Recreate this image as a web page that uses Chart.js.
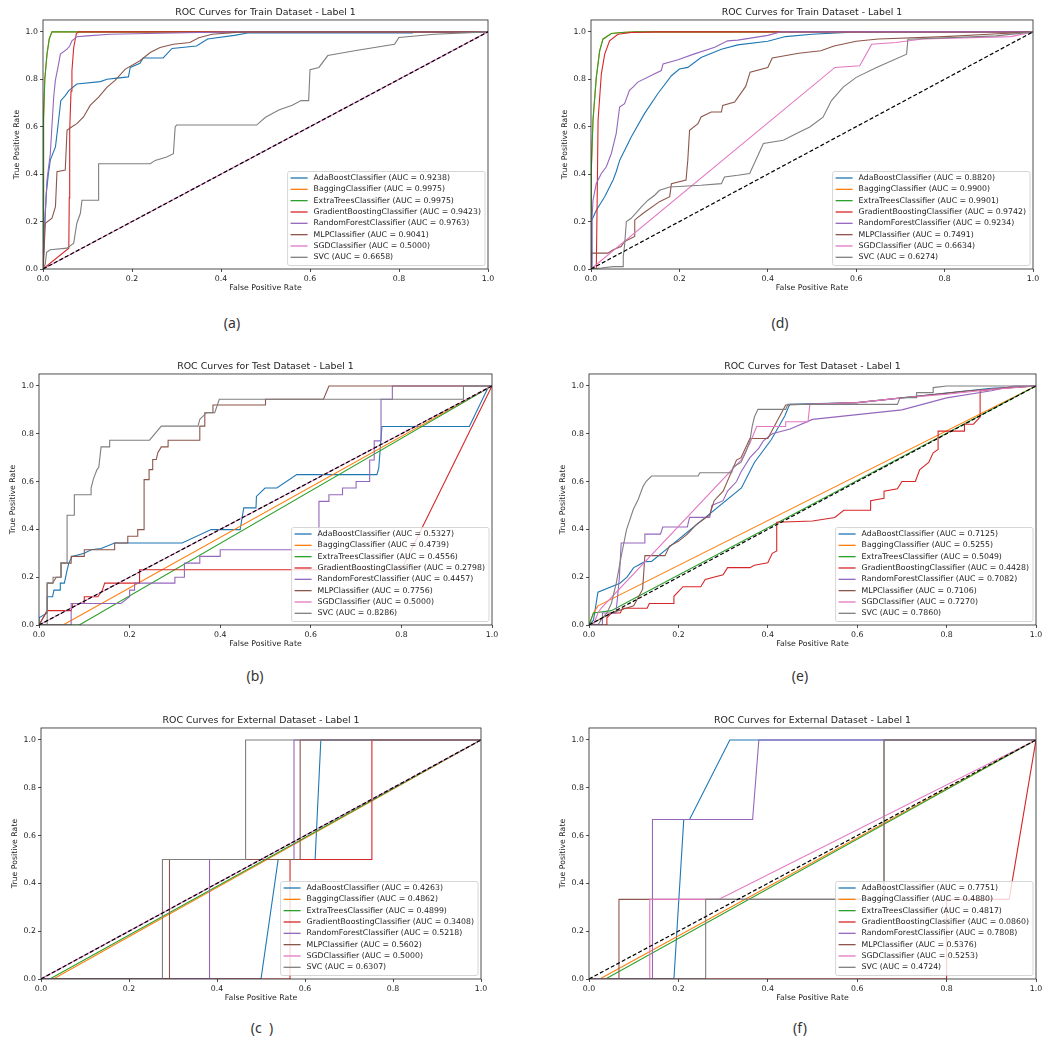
<!DOCTYPE html>
<html>
<head>
<meta charset="utf-8">
<script src="https://cdn.jsdelivr.net/npm/chart.js@4.4.1/dist/chart.umd.min.js"></script>
<style>
    body { margin: 0; background: #fff; width: 1050px; height: 1044px; position: relative; overflow: hidden; }
    canvas { position: absolute; }
    .cap { position: absolute; font: 14px "Noto Sans"; color: #333; transform: translate(-50%, -50%); white-space: pre; }
</style>
</head>
<body>
<canvas id="chartA" width="489" height="297" style="left:9px;top:0px"></canvas>
<canvas id="chartD" width="486" height="297" style="left:557px;top:0px"></canvas>
<canvas id="chartB" width="497" height="299" style="left:5px;top:354px"></canvas>
<canvas id="chartE" width="491" height="299" style="left:555px;top:354px"></canvas>
<canvas id="chartC" width="484" height="299" style="left:7px;top:708px"></canvas>
<canvas id="chartF" width="491" height="299" style="left:555px;top:708px"></canvas>
<div class="cap" style="left:232px;top:322px">(a)</div>
<div class="cap" style="left:780px;top:322px">(d)</div>
<div class="cap" style="left:255px;top:675px">(b)</div>
<div class="cap" style="left:800px;top:675px">(e)</div>
<div class="cap" style="left:262px;top:1027px">(c  )</div>
<div class="cap" style="left:800px;top:1027px">(f)</div>
<script>
// Models and tick labels
const MODELS = ['AdaBoostClassifier', 'BaggingClassifier', 'ExtraTreesClassifier', 'GradientBoostingClassifier',
    'RandomForestClassifier', 'MLPClassifier', 'SGDClassifier', 'SVC'];
const TICKS = [0, 0.2, 0.4, 0.6, 0.8, 1.0];
const COLORS = ['#1f77b4', '#ff7f0e', '#2ca02c', '#d62728', '#9467bd', '#8c564b', '#e377c2', '#7f7f7f'];

// AUC values per panel
const aucA = [0.9238, 0.9975, 0.9975, 0.9423, 0.9763, 0.9041, 0.5000, 0.6658];
const aucD = [0.8820, 0.9900, 0.9901, 0.9742, 0.9234, 0.7491, 0.6634, 0.6274];
const aucB = [0.5327, 0.4739, 0.4556, 0.2798, 0.4457, 0.7756, 0.5000, 0.8286];
const aucE = [0.7125, 0.5255, 0.5049, 0.4428, 0.7082, 0.7106, 0.7270, 0.7860];
const aucC = [0.4263, 0.4862, 0.4899, 0.3408, 0.5218, 0.5602, 0.5000, 0.6307];
const aucF = [0.7751, 0.4880, 0.4817, 0.0860, 0.7808, 0.5376, 0.5253, 0.4724];

// (a) Train, left  -- [fpr, tpr]
const aAda = [[0,0],[0.003,0.15],[0.0075,0.32],[0.012,0.4],[0.0165,0.46],[0.028,0.515],[0.035,0.626],[0.04,0.71],[0.05,0.731],[0.058,0.752],[0.076,0.78],[0.129,0.79],[0.144,0.8],[0.166,0.805],[0.192,0.81],[0.196,0.85],[0.218,0.867],[0.225,0.89],[0.27,0.89],[0.29,0.93],[0.345,0.94],[0.37,0.97],[0.43,0.985],[0.46,0.995],[0.83,0.995],[0.83,1],[1,1]];
const aBag = [[0,0],[0.001,0.3],[0.0015,0.63],[0.004,0.8],[0.009,0.906],[0.014,0.97],[0.02,1],[1,1]];
const aExtra = [[0,0],[0.001,0.3],[0.0015,0.63],[0.004,0.8],[0.009,0.906],[0.014,0.97],[0.02,1],[1,1]];
const aGb = [[0,0],[0.058,0.088],[0.059,0.3],[0.06,0.585],[0.063,0.75],[0.065,0.836],[0.069,0.934],[0.075,0.993],[0.08,1],[1,1]];
const aRf = [[0,0],[0.004,0.2],[0.009,0.375],[0.0165,0.487],[0.02,0.6],[0.024,0.724],[0.0277,0.794],[0.035,0.864],[0.039,0.906],[0.054,0.927],[0.06,0.94],[0.065,0.962],[0.076,0.979],[0.099,0.983],[0.15,0.99],[0.35,0.997],[0.45,1],[1,1]];
const aMlp = [[0,0],[0.003,0.1],[0.0052,0.193],[0.0202,0.214],[0.028,0.263],[0.0314,0.41],[0.05,0.417],[0.054,0.585],[0.065,0.6],[0.076,0.613],[0.091,0.641],[0.106,0.69],[0.125,0.725],[0.144,0.767],[0.162,0.795],[0.185,0.843],[0.218,0.878],[0.241,0.913],[0.263,0.934],[0.293,0.948],[0.33,0.955],[0.35,0.975],[0.38,0.99],[0.45,1],[1,1]];
const aSgd = [[0,0],[1,1]];
const aSvc = [[0,0],[0.005,0.02],[0.008,0.07],[0.0165,0.081],[0.054,0.088],[0.069,0.109],[0.076,0.193],[0.084,0.235],[0.0875,0.29],[0.125,0.29],[0.125,0.444],[0.241,0.444],[0.252,0.458],[0.278,0.472],[0.293,0.486],[0.297,0.598],[0.3,0.607],[0.48,0.607],[0.5,0.64],[0.53,0.67],[0.56,0.69],[0.58,0.71],[0.597,0.71],[0.6,0.84],[0.62,0.85],[0.64,0.9],[0.7,0.92],[0.79,0.948],[0.8,0.976],[0.88,0.99],[1,1]];

// (d) Train, right
const dAda = [[0,0],[0.002,0.207],[0.012,0.248],[0.031,0.305],[0.05,0.375],[0.057,0.41],[0.065,0.459],[0.091,0.557],[0.121,0.655],[0.151,0.739],[0.182,0.815],[0.2,0.843],[0.219,0.85],[0.249,0.892],[0.295,0.927],[0.332,0.945],[0.4,0.96],[0.44,0.98],[0.5,0.99],[0.6,1],[1,1]];
const dBag = [[0,0],[0.0007,0.417],[0.0045,0.627],[0.012,0.808],[0.0196,0.92],[0.027,0.969],[0.046,0.993],[0.069,0.997],[0.1,1],[1,1]];
const dExtra = [[0,0],[0.0007,0.417],[0.0045,0.627],[0.012,0.808],[0.0196,0.92],[0.027,0.969],[0.046,0.993],[0.069,0.997],[0.1,1],[1,1]];
const dGb = [[0,0],[0.012,0],[0.014,0.3],[0.016,0.627],[0.0234,0.823],[0.031,0.906],[0.042,0.962],[0.061,0.99],[0.091,0.997],[0.15,1],[1,1]];
const dRf = [[0,0],[0.002,0.2],[0.0045,0.29],[0.012,0.361],[0.0234,0.403],[0.0347,0.431],[0.046,0.487],[0.057,0.571],[0.0648,0.683],[0.076,0.697],[0.087,0.753],[0.095,0.767],[0.106,0.788],[0.136,0.816],[0.159,0.837],[0.163,0.865],[0.197,0.882],[0.234,0.907],[0.28,0.935],[0.309,0.962],[0.332,0.965],[0.4,0.985],[0.43,1],[1,1]];
const dMlp = [[0,0],[0,0.067],[0.038,0.067],[0.05,0.081],[0.068,0.095],[0.076,0.116],[0.099,0.137],[0.099,0.207],[0.118,0.235],[0.155,0.284],[0.178,0.305],[0.182,0.36],[0.215,0.375],[0.219,0.459],[0.223,0.585],[0.242,0.613],[0.249,0.641],[0.272,0.662],[0.295,0.662],[0.298,0.69],[0.325,0.704],[0.35,0.77],[0.36,0.83],[0.4,0.85],[0.41,0.89],[0.47,0.91],[0.52,0.92],[0.55,0.94],[0.6,0.96],[0.65,0.97],[0.8,0.98],[0.9,0.99],[1,1]];
const dSgd = [[0,0],[0.552,0.85],[0.608,0.857],[0.627,0.92],[0.635,0.948],[0.69,0.955],[0.75,0.97],[0.95,0.98],[1,1]];
const dSvc = [[0,0],[0.023,0.004],[0.05,0.01],[0.073,0.01],[0.073,0.053],[0.076,0.1],[0.08,0.2],[0.091,0.214],[0.114,0.262],[0.129,0.29],[0.144,0.311],[0.155,0.332],[0.178,0.346],[0.249,0.353],[0.295,0.36],[0.302,0.388],[0.332,0.395],[0.359,0.403],[0.39,0.529],[0.435,0.543],[0.465,0.571],[0.495,0.599],[0.525,0.64],[0.544,0.71],[0.57,0.766],[0.6,0.808],[0.646,0.85],[0.714,0.906],[0.717,0.969],[0.917,0.983],[1,1]];

// (b) Test, left
const bAda = [[0,0],[0,0.03],[0.018,0.05],[0.018,0.118],[0.03,0.118],[0.033,0.146],[0.047,0.146],[0.047,0.175],[0.056,0.175],[0.062,0.23],[0.066,0.26],[0.073,0.287],[0.1,0.3],[0.115,0.315],[0.137,0.32],[0.167,0.343],[0.316,0.343],[0.38,0.399],[0.444,0.399],[0.452,0.49],[0.479,0.49],[0.48,0.538],[0.499,0.573],[0.525,0.573],[0.569,0.629],[0.746,0.629],[0.75,0.657],[0.757,0.83],[0.95,0.83],[0.993,1],[1,1]];
const bBag = [[0,0],[0.053,0],[1,1]];
const bExtra = [[0,0],[0.089,0],[1,1]];
const bGb = [[0,0],[0.018,0.06],[0.071,0.06],[0.075,0.09],[0.1,0.09],[0.1,0.118],[0.13,0.118],[0.14,0.146],[0.145,0.175],[0.222,0.175],[0.222,0.231],[0.8,0.231],[1,1]];
const bRf = [[0,0],[0.071,0],[0.071,0.09],[0.181,0.09],[0.2,0.118],[0.2,0.146],[0.211,0.146],[0.211,0.175],[0.3,0.175],[0.3,0.2],[0.321,0.2],[0.321,0.259],[0.355,0.259],[0.355,0.287],[0.4,0.287],[0.4,0.315],[0.618,0.315],[0.618,0.517],[0.64,0.517],[0.64,0.545],[0.67,0.545],[0.67,0.573],[0.7,0.573],[0.7,0.6],[0.73,0.6],[0.73,0.69],[0.74,0.69],[0.74,0.77],[0.755,0.77],[0.755,0.944],[0.78,0.944],[0.78,1],[1,1]];
const bMlp = [[0,0],[0.018,0.06],[0.018,0.175],[0.03,0.175],[0.038,0.2],[0.049,0.2],[0.049,0.259],[0.071,0.259],[0.071,0.287],[0.1,0.287],[0.1,0.315],[0.167,0.315],[0.167,0.343],[0.196,0.343],[0.196,0.371],[0.218,0.371],[0.218,0.399],[0.232,0.399],[0.232,0.608],[0.243,0.608],[0.243,0.65],[0.251,0.65],[0.251,0.692],[0.259,0.692],[0.262,0.72],[0.27,0.745],[0.285,0.745],[0.285,0.773],[0.355,0.773],[0.355,0.832],[0.366,0.832],[0.366,0.888],[0.384,0.888],[0.384,0.92],[0.5,0.92],[0.5,0.944],[0.628,0.944],[0.64,1],[1,1]];
const bSgd = [[0,0],[1,1]];
const bSvc = [[0,0],[0.018,0],[0.018,0.175],[0.031,0.175],[0.031,0.2],[0.048,0.2],[0.048,0.26],[0.062,0.26],[0.062,0.459],[0.078,0.459],[0.078,0.545],[0.115,0.545],[0.115,0.573],[0.12,0.61],[0.128,0.65],[0.132,0.66],[0.137,0.745],[0.156,0.745],[0.156,0.773],[0.244,0.773],[0.27,0.832],[0.351,0.832],[0.355,0.86],[0.37,0.888],[0.388,0.888],[0.398,0.944],[0.937,0.944],[0.937,1],[1,1]];

// (e) Test, right
const eAda = [[0,0],[0.01,0.02],[0.02,0.137],[0.069,0.175],[0.085,0.2],[0.1,0.24],[0.11,0.25],[0.125,0.265],[0.14,0.266],[0.341,0.573],[0.37,0.68],[0.408,0.776],[0.438,0.874],[0.449,0.923],[0.6,0.93],[0.7,0.95],[0.8,0.97],[0.9,0.99],[1,1]];
const eBag = [[0,0],[0.01,0.05],[0.02,0.08],[1,1]];
const eExtra = [[0,0],[0.01,0.05],[0.05,0.06],[0.1,0.11],[1,1]];
const eGb = [[0,0],[0.04,0],[0.04,0.03],[0.05,0.05],[0.07,0.05],[0.075,0.07],[0.13,0.07],[0.135,0.09],[0.19,0.09],[0.19,0.12],[0.2,0.14],[0.21,0.16],[0.25,0.16],[0.26,0.19],[0.3,0.21],[0.31,0.24],[0.36,0.24],[0.37,0.25],[0.4,0.26],[0.41,0.3],[0.42,0.31],[0.42,0.43],[0.5,0.435],[0.55,0.45],[0.57,0.48],[0.629,0.48],[0.63,0.52],[0.66,0.53],[0.66,0.56],[0.69,0.57],[0.7,0.6],[0.73,0.6],[0.74,0.65],[0.76,0.68],[0.77,0.72],[0.781,0.734],[0.781,0.811],[0.84,0.811],[0.84,0.84],[0.86,0.84],[0.875,0.87],[0.875,0.979],[0.92,0.99],[1,1]];
const eRf = [[0,0],[0.03,0],[0.03,0.05],[0.06,0.05],[0.063,0.1],[0.068,0.2],[0.072,0.343],[0.125,0.343],[0.125,0.38],[0.16,0.38],[0.165,0.41],[0.22,0.41],[0.225,0.45],[0.27,0.45],[0.275,0.5],[0.3,0.52],[0.31,0.56],[0.33,0.6],[0.34,0.64],[0.36,0.7],[0.38,0.74],[0.39,0.77],[0.41,0.8],[0.45,0.82],[0.5,0.86],[0.6,0.88],[0.7,0.9],[0.8,0.95],[0.9,0.98],[0.95,1],[1,1]];
const eMlp = [[0,0],[0.02,0.02],[0.05,0.05],[0.1,0.08],[0.12,0.15],[0.125,0.29],[0.17,0.29],[0.18,0.33],[0.2,0.35],[0.22,0.38],[0.24,0.42],[0.27,0.46],[0.28,0.52],[0.3,0.56],[0.33,0.69],[0.34,0.7],[0.36,0.78],[0.4,0.78],[0.42,0.85],[0.44,0.92],[0.6,0.93],[0.75,0.96],[0.85,0.98],[1,1]];
const eSgd = [[0,0],[0.01,0],[0.02,0.05],[0.027,0.07],[0.341,0.692],[0.36,0.76],[0.375,0.83],[0.44,0.83],[0.44,0.85],[0.49,0.85],[0.494,0.923],[0.6,0.93],[0.7,0.95],[0.8,0.965],[0.9,0.985],[1,1]];
const eSvc = [[0,0],[0.02,0],[0.03,0.03],[0.04,0.05],[0.05,0.09],[0.061,0.175],[0.072,0.287],[0.084,0.399],[0.099,0.483],[0.11,0.525],[0.121,0.58],[0.128,0.601],[0.14,0.623],[0.244,0.623],[0.248,0.637],[0.319,0.637],[0.323,0.662],[0.34,0.68],[0.35,0.72],[0.36,0.77],[0.365,0.83],[0.37,0.87],[0.378,0.902],[0.44,0.902],[0.445,0.923],[0.69,0.923],[0.696,0.951],[0.733,0.951],[0.733,0.972],[0.77,0.972],[0.77,0.993],[0.8,1],[1,1]];

// (c) External, left
const cAda = [[0,0],[0.5,0],[0.539,0.5],[0.623,0.5],[0.636,1],[1,1]];
const cBag = [[0,0],[0.028,0],[1,1]];
const cExtra = [[0,0],[0.02,0],[1,1]];
const cGb = [[0,0],[0.566,0],[0.566,0.5],[0.752,0.5],[0.752,1],[1,1]];
const cRf = [[0,0],[0.383,0],[0.383,0.5],[0.575,0.5],[0.575,1],[1,1]];
const cMlp = [[0,0],[0.292,0],[0.292,0.5],[0.589,0.5],[0.589,1],[1,1]];
const cSgd = [[0,0],[1,1]];
const cSvc = [[0,0],[0.276,0],[0.276,0.5],[0.465,0.5],[0.465,1],[1,1]];

// (f) External, right
const fAda = [[0,0],[0.19,0],[0.212,0.667],[0.225,0.667],[0.315,1],[1,1]];
const fBag = [[0,0],[0.024,0],[1,1]];
const fExtra = [[0,0],[0.037,0],[1,1]];
const fGb = [[0,0],[0.8,0],[0.8,0.333],[0.94,0.333],[1,1]];
const fRf = [[0,0],[0.142,0],[0.142,0.667],[0.366,0.667],[0.38,1],[1,1]];
const fMlp = [[0,0],[0.067,0],[0.067,0.333],[0.66,0.333],[0.66,1],[1,1]];
const fSgd = [[0,0],[0.136,0],[0.136,0.333],[0.29,0.333],[1,1]];
const fSvc = [[0,0],[0.261,0],[0.261,0.333],[0.66,0.333],[0.66,1],[1,1]];

const CHANCE = [[0,0],[1,1]];

Chart.defaults.font.family = '"DejaVu Sans", sans-serif';

// Frame around the plot area (all four spines)
const framePlugin = {
    id: 'frame',
    afterDatasetsDraw(chart) {
        const { ctx, chartArea: a } = chart;
        ctx.save();
        ctx.strokeStyle = '#222';
        ctx.lineWidth = 0.8;
        ctx.strokeRect(a.left, a.top, a.right - a.left, a.bottom - a.top);
        ctx.restore();
    }
};

// Legend boxed inside the plot, lower right
const insideLegend = {
    id: 'insideLegend',
    afterDraw(chart) {
        const { ctx, chartArea: a } = chart;
        const items = chart.data.datasets.filter(d => !d.isChance);
        ctx.save();
        ctx.font = '7.8px "DejaVu Sans"';
        const textW = Math.max(...items.map(d => ctx.measureText(d.label).width));
        const w = textW + 30, h = 94;
        const x = a.right - 3 - w, y = a.bottom - 3.5 - h;
        ctx.fillStyle = 'rgba(255,255,255,0.8)';
        ctx.strokeStyle = '#cccccc';
        ctx.lineWidth = 0.8;
        ctx.beginPath();
        ctx.roundRect(x, y, w, h, 2);
        ctx.fill();
        ctx.stroke();
        ctx.textBaseline = 'middle';
        items.forEach((d, i) => {
            const cy = y + 6.5 + i * 11.33;
            ctx.strokeStyle = d.borderColor;
            ctx.lineWidth = 1.3;
            ctx.beginPath();
            ctx.moveTo(x + 3, cy);
            ctx.lineTo(x + 20, cy);
            ctx.stroke();
            ctx.fillStyle = '#222';
            ctx.fillText(d.label, x + 26, cy);
        });
        ctx.restore();
    }
};

function axis(title, max, isX) {
    return {
        type: 'linear',
        min: 0,
        max: max,
        afterBuildTicks: s => { s.ticks = TICKS.map(v => ({ value: v })); },
        afterFit: s => { if (isX) s.height = 28; else s.width = 34; },
        ticks: { callback: v => v.toFixed(1), font: { size: 7.8 }, color: '#222', padding: 2, maxRotation: 0, autoSkip: false },
        grid: { drawOnChartArea: false, drawTicks: true, tickLength: 3, color: '#222', lineWidth: 0.8 },
        border: { display: false },
        title: {
            display: true,
            text: title,
            font: { size: 7.8 },
            color: '#222',
            padding: isX ? { top: 0, bottom: 4.3 } : { top: 3.3, bottom: 0 }
        }
    };
}

function toXY(pts) {
    return pts.map(p => ({ x: p[0], y: p[1] }));
}

function makePanel(id, title, aucs, curves) {
    const datasets = curves.map((pts, i) => ({
        label: `${MODELS[i]} (AUC = ${aucs[i].toFixed(4)})`,
        data: toXY(pts),
        borderColor: COLORS[i],
        borderWidth: 1.1,
        pointRadius: 0,
        fill: false,
        order: -i
    }));
    datasets.push({
        label: 'chance',
        isChance: true,
        data: toXY(CHANCE),
        borderColor: '#000',
        borderWidth: 1.2,
        borderDash: [4, 2.2],
        pointRadius: 0,
        fill: false,
        order: -8
    });

    new Chart(document.getElementById(id), {
        type: 'line',
        data: { datasets },
        options: {
            responsive: false,
            animation: false,
            events: [],
            layout: { padding: { top: 0, right: 10, left: 0, bottom: 0 } },
            elements: { line: { tension: 0 } },
            plugins: {
                legend: { display: false },
                tooltip: { enabled: false },
                title: {
                    display: true,
                    text: title,
                    fullSize: false,
                    color: '#222',
                    font: { size: 9.4, weight: 'normal' },
                    padding: { top: 6.5, bottom: 2.2 }
                }
            },
            scales: {
                x: axis('False Positive Rate', 1, true),
                y: axis('True Positive Rate', 1.05, false)
            }
        },
        plugins: [framePlugin, insideLegend]
    });
}

const TRAIN = 'ROC Curves for Train Dataset - Label 1';
const TEST = 'ROC Curves for Test Dataset - Label 1';
const EXTERNAL = 'ROC Curves for External Dataset - Label 1';

makePanel('chartA', TRAIN, aucA, [aAda, aBag, aExtra, aGb, aRf, aMlp, aSgd, aSvc]);
makePanel('chartD', TRAIN, aucD, [dAda, dBag, dExtra, dGb, dRf, dMlp, dSgd, dSvc]);
makePanel('chartB', TEST, aucB, [bAda, bBag, bExtra, bGb, bRf, bMlp, bSgd, bSvc]);
makePanel('chartE', TEST, aucE, [eAda, eBag, eExtra, eGb, eRf, eMlp, eSgd, eSvc]);
makePanel('chartC', EXTERNAL, aucC, [cAda, cBag, cExtra, cGb, cRf, cMlp, cSgd, cSvc]);
makePanel('chartF', EXTERNAL, aucF, [fAda, fBag, fExtra, fGb, fRf, fMlp, fSgd, fSvc]);
</script>
</body>
</html>
